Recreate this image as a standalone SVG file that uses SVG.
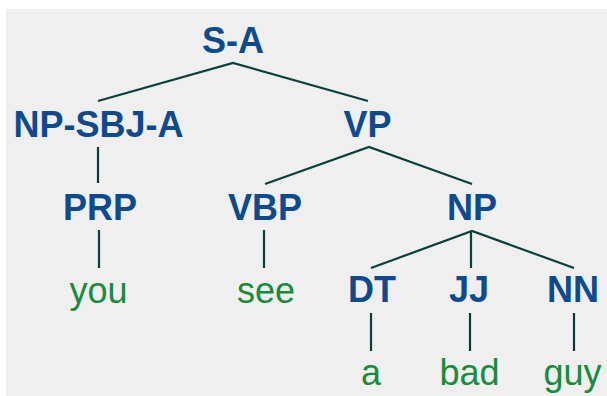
<svg xmlns="http://www.w3.org/2000/svg" width="607" height="396" viewBox="0 0 607 396">
<style>
.lbl{font-family:"Liberation Sans",Arial,sans-serif;font-weight:bold;font-size:36px;fill:#0d4a8e;text-anchor:middle}
.leaf{font-family:"Liberation Sans",Arial,sans-serif;font-size:36px;fill:#1a8a3c;text-anchor:middle}
.edge{fill:none;stroke:#0b3f3c;stroke-width:2.2}
</style>
<rect x="0" y="0" width="607" height="396" fill="#ffffff"/>
<rect x="6" y="9" width="601" height="387" fill="#efefef"/>
<g id="connectors">
<polyline class="edge" points="98,101 233,63 368,101"/>
<line class="edge" x1="98" y1="147" x2="98" y2="183"/>
<polyline class="edge" points="265,184 369,147 472,184"/>
<line class="edge" x1="99" y1="230" x2="99" y2="268"/>
<line class="edge" x1="264" y1="230" x2="264" y2="268"/>
<polyline class="edge" points="371,268 472,231 574,268"/>
<line class="edge" x1="471" y1="231" x2="471" y2="268"/>
<line class="edge" x1="371" y1="313" x2="371" y2="351"/>
<line class="edge" x1="470" y1="313" x2="470" y2="351"/>
<line class="edge" x1="574" y1="313" x2="574" y2="351"/>
</g>
<g id="S-A"><text class="lbl" x="233" y="53">S-A</text></g>
<g id="NP-SBJ-A"><text class="lbl" x="98.5" y="137">NP-SBJ-A</text></g>
<g id="VP"><text class="lbl" x="367.5" y="137">VP</text></g>
<g id="PRP"><text class="lbl" x="100" y="220">PRP</text></g>
<g id="VBP"><text class="lbl" x="265" y="220">VBP</text></g>
<g id="NP"><text class="lbl" x="472" y="220">NP</text></g>
<g id="DT"><text class="lbl" x="372" y="302">DT</text></g>
<g id="JJ"><text class="lbl" x="469" y="302">JJ</text></g>
<g id="NN"><text class="lbl" x="573" y="302">NN</text></g>
<g id="you"><text class="leaf" x="98.5" y="303">you</text></g>
<g id="see"><text class="leaf" x="266" y="303">see</text></g>
<g id="a"><text class="leaf" x="371" y="385">a</text></g>
<g id="bad"><text class="leaf" x="469.5" y="385">bad</text></g>
<g id="guy"><text class="leaf" x="572.5" y="385">guy</text></g>
</svg>
